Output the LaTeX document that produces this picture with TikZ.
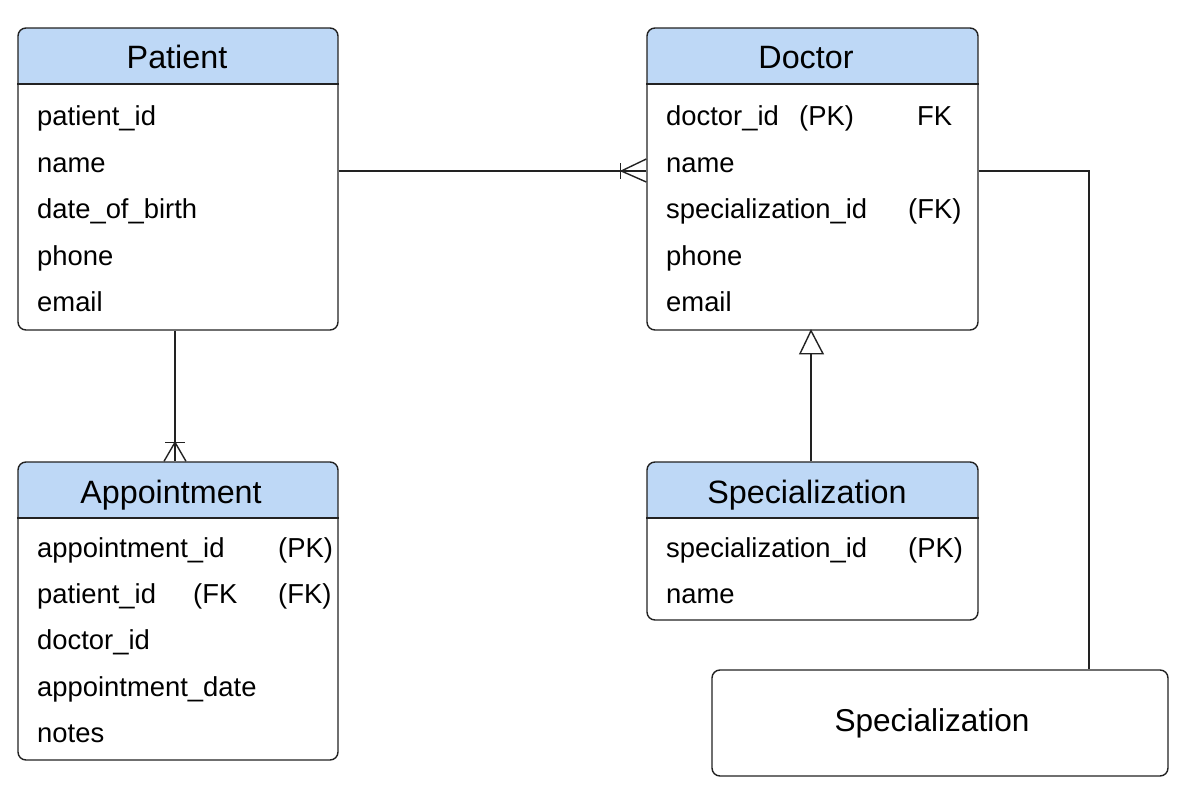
\documentclass[tikz,border=0pt]{standalone}
\usepackage{fontspec}
\setmainfont{Liberation Sans}
\usetikzlibrary{calc}
\definecolor{hdrblue}{HTML}{BED8F6}
\definecolor{linec}{HTML}{222222}
\tikzset{
  entity/.style={draw=linec, line width=1.4pt, rounded corners=8pt, rectangle, inner sep=0pt},
  ttl/.style={anchor=base, inner sep=0pt, font=\fontsize{32.3}{37}\selectfont},
  row/.style={anchor=base west, inner sep=0pt, font=\fontsize{27.4}{32}\selectfont},
  conn/.style={draw=linec, line width=1.4pt},
}
\begin{document}
\begin{tikzpicture}[x=1pt,y=-1pt]
\useasboundingbox (0,0) rectangle (1200,800);

% header fills
\begin{scope}
\clip[rounded corners=8pt] (18,28) rectangle (338,330);
\fill[hdrblue] (18,28) rectangle (338,84);
\end{scope}
\begin{scope}
\clip[rounded corners=8pt] (647,28) rectangle (978,330);
\fill[hdrblue] (647,28) rectangle (978,84);
\end{scope}
\begin{scope}
\clip[rounded corners=8pt] (18,462) rectangle (338,760);
\fill[hdrblue] (18,462) rectangle (338,518);
\end{scope}
\begin{scope}
\clip[rounded corners=8pt] (647,462) rectangle (978,620);
\fill[hdrblue] (647,462) rectangle (978,518);
\end{scope}

% entity boxes
\node[entity, minimum width=320pt, minimum height=302pt] (patient) at (178,179) {};
\node[entity, minimum width=331pt, minimum height=302pt] (doctor) at (812.5,179) {};
\node[entity, minimum width=320pt, minimum height=298pt] (appt) at (178,611) {};
\node[entity, minimum width=331pt, minimum height=158pt] (spec) at (812.5,541) {};
\node[entity, minimum width=456pt, minimum height=106pt] (specbox) at (940,723) {};

% header separators
\draw[conn] (patient.west |- 0,84) -- (patient.east |- 0,84);
\draw[conn] (doctor.west |- 0,84) -- (doctor.east |- 0,84);
\draw[conn] (appt.west |- 0,518) -- (appt.east |- 0,518);
\draw[conn] (spec.west |- 0,518) -- (spec.east |- 0,518);

% titles
\node[ttl] (tpatient) at (177,69) {Patient};
\node[ttl] (tdoctor) at (806,69) {Doctor};
\node[ttl] (tappt) at (171,503) {Appointment};
\node[ttl] (tspec) at (807,503) {Specialization};
\node[anchor=center, inner sep=0pt, font=\fontsize{31.6}{36}\selectfont] (tspecbox) at (932,723) {Specialization};

% Patient rows
\node[row] (p1) at (37,125) {patient\_id};
\node[row] (p2) at (37,172) {name};
\node[row] (p3) at (37,218) {date\_of\_birth};
\node[row] (p4) at (37,265) {phone};
\node[row] (p5) at (37,311) {email};

% Doctor rows
\node[row] (d1) at (666,125) {doctor\_id};
\node[row] (d1b) at (799,125) {(PK)};
\node[row] (d1c) at (917,125) {FK};
\node[row] (d2) at (666,172) {name};
\node[row] (d3) at (666,218) {specialization\_id};
\node[row] (d3b) at (908,218) {(FK)};
\node[row] (d4) at (666,265) {phone};
\node[row] (d5) at (666,311) {email};

% Appointment rows
\node[row] (a1) at (37,557) {appointment\_id};
\node[row] (a1b) at (278,557) {(PK)};
\node[row] (a2) at (37,603) {patient\_id};
\node[row] (a2b) at (193,603) {(FK};
\node[row] (a2c) at (278,603) {(FK)};
\node[row] (a3) at (37,649) {doctor\_id};
\node[row] (a4) at (37,696) {appointment\_date};
\node[row] (a5) at (37,742) {notes};

% Specialization rows
\node[row] (s1) at (666,557) {specialization\_id};
\node[row] (s1b) at (908,557) {(PK)};
\node[row] (s2) at (666,603) {name};

% Patient -- Doctor (one to many)
\coordinate (pdE) at (doctor.west |- 0,171);
\draw[conn] (patient.east |- 0,171) -- (pdE);
\draw[conn] ($(pdE)+(-25,0)$) -- ($(pdE)+(0,-12)$);
\draw[conn] ($(pdE)+(-25,0)$) -- ($(pdE)+(0,11)$);
\draw[conn] ($(pdE)+(-26,-8)$) -- ($(pdE)+(-26,8)$);

% Patient -- Appointment (one to many)
\coordinate (paE) at (appt.north -| 175,0);
\draw[conn] (patient.south -| 175,0) -- (paE);
\draw[conn] ($(paE)+(0,-19)$) -- ($(paE)+(-11,0)$);
\draw[conn] ($(paE)+(0,-19)$) -- ($(paE)+(11,0)$);
\draw[conn] ($(paE)+(-10,-19)$) -- ($(paE)+(10,-19)$);

% Specialization -- Doctor (inheritance)
\coordinate (sdT) at (doctor.south -| 811,0);
\draw[conn] (spec.north -| 811,0) -- ($(sdT)+(0,23)$);
\draw[conn, fill=white, line join=miter] (sdT) -- ($(sdT)+(-11,23)$) -- ($(sdT)+(12,23)$) -- cycle;

% Doctor -- bottom Specialization box
\draw[conn] (doctor.east |- 0,171) -| (specbox.north -| 1089,0);
\end{tikzpicture}
\end{document}
